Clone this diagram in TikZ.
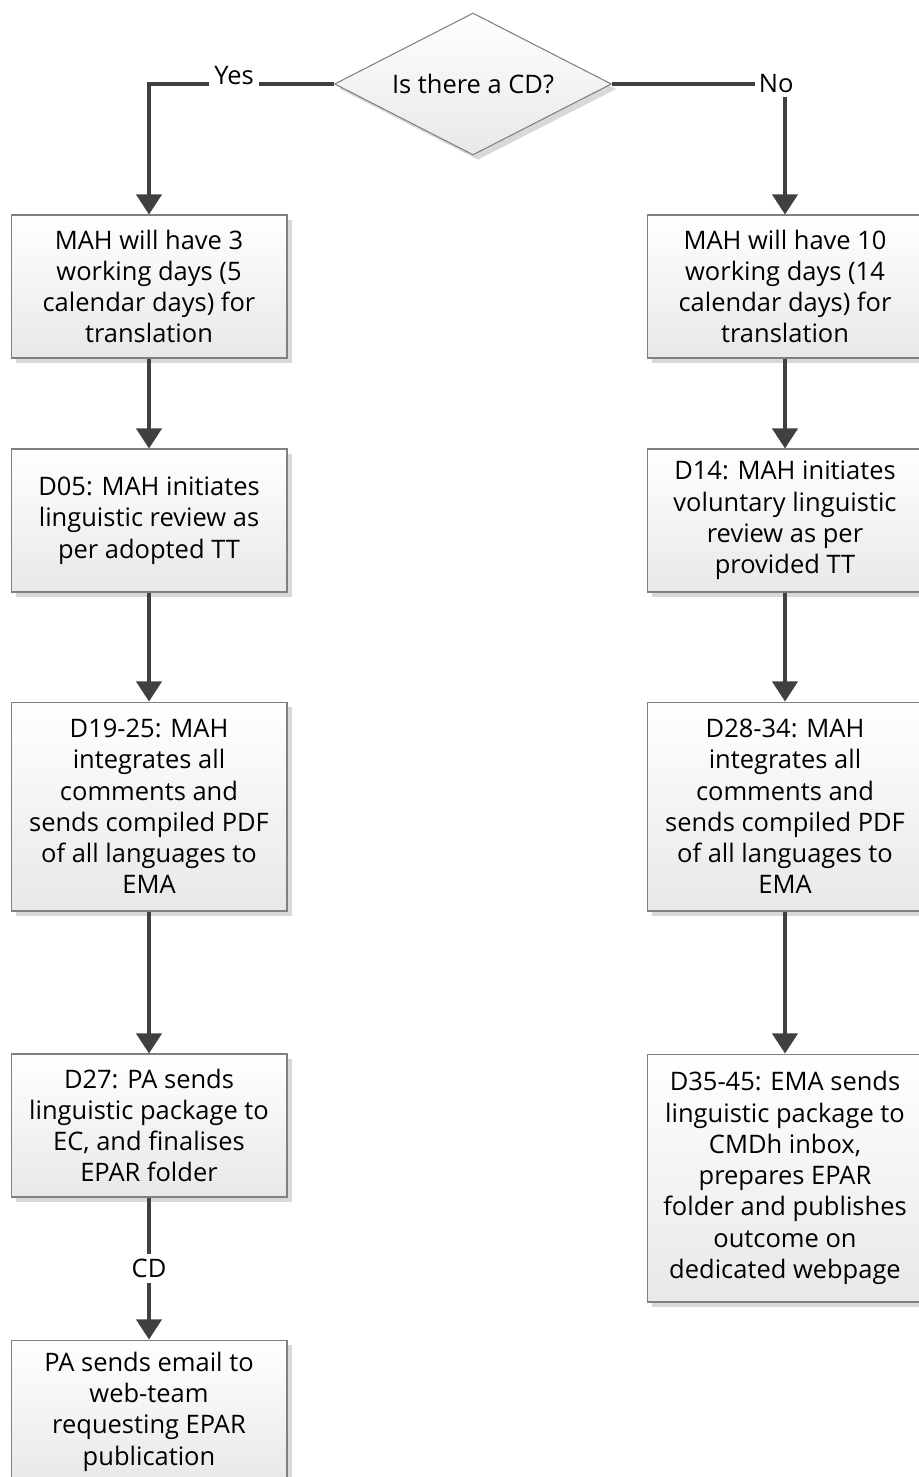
\documentclass[tikz,border=0pt]{standalone}
\usepackage{fontspec}
\setmainfont{Open Sans}
\usetikzlibrary{shapes.geometric,shadows,arrows.meta}

\begin{document}
\begin{tikzpicture}[x=0.02cm,y=-0.02cm,
    font=\fontsize{14.5pt}{17.8pt}\selectfont]
\useasboundingbox (0,0) rectangle (919,1477);

\begin{scope}[every node/.style={draw=black!50,line width=0.6pt,
              top color=white,bottom color=black!9,
              drop shadow={shadow xshift=2.8pt,shadow yshift=-2.8pt,fill=black!15,opacity=1},
              align=center,minimum width=5.52cm,minimum height=2.86cm,inner sep=1pt}]
    \node (Q)[diamond,aspect=2,minimum width=5.54cm,minimum height=2.84cm] at (473,84) {Is there a CD?};
    % left branch
    \node (L1) at (149,286.5) {MAH will have 3\\working days (5\\calendar days) for\\translation};
    \node (L2) at (149,520.5) {D05: MAH initiates\\linguistic review as\\per adopted TT};
    \node (L3)[minimum height=4.18cm] at (149,806.5) {D19-25: MAH\\integrates all\\comments and\\sends compiled PDF\\of all languages to\\EMA};
    \node (L4) at (149,1125.5) {D27: PA sends\\linguistic package to\\EC, and finalises\\EPAR folder};
    \node (L5) at (149,1411.5) {PA sends email to\\web-team\\requesting EPAR\\publication};
    % right branch
    \node (R1) at (785,286.5) {MAH will have 10\\working days (14\\calendar days) for\\translation};
    \node (R2) at (785,520.5) {D14: MAH initiates\\voluntary linguistic\\review as per\\provided TT};
    \node (R3)[minimum height=4.18cm] at (785,806.5) {D28-34: MAH\\integrates all\\comments and\\sends compiled PDF\\of all languages to\\EMA};
    \node (R4)[minimum height=4.96cm] at (785,1178) {D35-45: EMA sends\\linguistic package to\\CMDh inbox,\\prepares EPAR\\folder and publishes\\outcome on\\dedicated webpage};
\end{scope}

\begin{scope}[flow/.style={draw=black!75,line width=1.8pt,-{Triangle[width=14.5pt,length=11.5pt]}},
              every edge/.style={flow},
              every node/.style={fill=white,inner sep=3pt}]
    \draw[flow] (Q.west) -| node[pos=0.27,yshift=5pt] {Yes} (L1.north);
    \draw[flow] (Q.east) -| node[pos=0.5,xshift=-5pt,inner sep=2pt] {No} (R1.north);
    \path (L1) edge (L2);
    \path (L2) edge (L3);
    \path (L3) edge (L4);
    \path (L4) edge node {CD} (L5);
    \path (R1) edge (R2);
    \path (R2) edge (R3);
    \path (R3) edge (R4);
\end{scope}
\end{tikzpicture}
\end{document}
